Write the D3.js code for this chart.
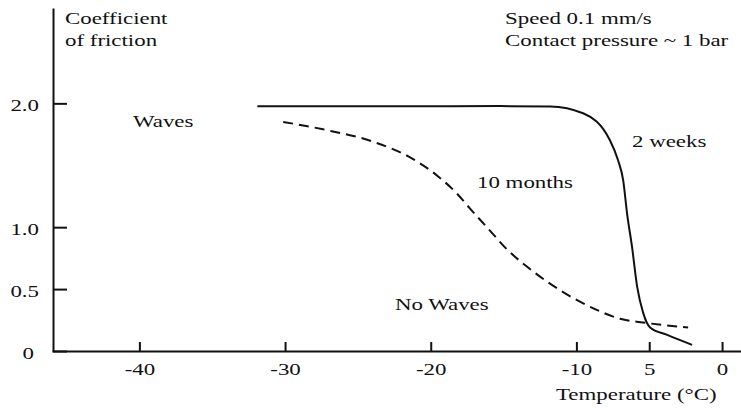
<!DOCTYPE html>
<html>
<head>
<meta charset="utf-8">
<script src="https://cdn.jsdelivr.net/npm/d3@7"></script>
<style>
  body { margin: 0; background: #fff; }
  svg text { font-family: "Liberation Serif", "Times New Roman", Times, "DejaVu Serif", serif; fill: #111; }
</style>
</head>
<body>
<div id="chart"></div>
<script>
// temperature (°C) vs coefficient of friction
var weeks2_temp = [-31.9, -22.1, -15.2, -11.8, -9.54, -7.69, -7.14, -6.79, -6.52, -6.18, -5.83, -5.42, -4.94, -3.77, -2.06];
var weeks2_mu   = [1.976, 1.976, 1.978, 1.975, 1.92, 1.70, 1.54, 1.38, 1.11, 0.84, 0.52, 0.31, 0.19, 0.13, 0.05];

var months10_temp = [-30.13, -27.39, -23.95, -21.21, -19.49, -18.19, -17.30, -15.92, -14.76, -13.38, -12.01, -9.95, -8.37, -7.0, -5.42, -2.33];
var months10_mu   = [1.85, 1.79, 1.69, 1.55, 1.41, 1.27, 1.15, 0.97, 0.82, 0.68, 0.56, 0.41, 0.32, 0.26, 0.23, 0.19];

var x_ticks = [-40, -30, -20, -10, -5, 0];
var x_tick_labels = ["-40", "-30", "-20", "-10", "5", "0"];
var y_ticks = [0, 0.5, 1.0, 2.0];
var y_tick_labels = ["0", "0.5", "1.0", "2.0"];

function build_friction_chart() {
    var width = 741, height = 408;
    var sx = 1.43; // the scan is stretched sideways
    var serif = "'Liberation Serif', 'Times New Roman', Times, 'DejaVu Serif', serif";

    var svg = d3.select("#chart")
        .append("svg")
            .attr("width", width)
            .attr("height", height);

    var xScale = d3.scaleLinear()
        .domain([-46, 1.3])
        .range([52, 741]);

    var yScale = d3.scaleLinear()
        .domain([0, 2.77])
        .range([351, 8]);

    // x axis, ticks pointing up
    var xAxis = svg.append("g")
        .attr("transform", "translate(0," + yScale(0) + ")")
        .call(d3.axisBottom(xScale)
            .tickValues(x_ticks)
            .tickFormat(function(d, i){ return x_tick_labels[i]; })
            .tickSizeInner(-9)
            .tickSizeOuter(0)
            .tickPadding(13));
    xAxis.attr("font-family", serif);
    xAxis.selectAll("text")
        .attr("font-size", 16)
        .attr("fill", "#111")
        .attr("transform", "scale(" + sx + ",1)");

    // y axis, ticks pointing right
    var yAxis = svg.append("g")
        .attr("transform", "translate(53,0)")
        .call(d3.axisLeft(yScale)
            .tickValues(y_ticks)
            .tickFormat(function(d, i){ return y_tick_labels[i]; })
            .tickSizeInner(-14)
            .tickSizeOuter(0)
            .tickPadding(14));
    yAxis.attr("font-family", serif);
    yAxis.selectAll("text")
        .attr("font-size", 16)
        .attr("fill", "#111")
        .attr("x", function(d){ return d === 0 ? -19 / sx : -14 / sx; })
        .attr("dy", "0.45em")
        .attr("transform", "scale(" + sx + ",1)");

    svg.selectAll(".domain, .tick line")
        .attr("stroke", "#111")
        .attr("stroke-width", 2);

    var line = d3.line()
        .x(function(d){ return xScale(d[0]); })
        .y(function(d){ return yScale(d[1]); })
        .curve(d3.curveMonotoneX);

    svg.append("path")
        .datum(d3.zip(weeks2_temp, weeks2_mu))
        .attr("d", line)
        .attr("fill", "none")
        .attr("stroke", "#111")
        .attr("stroke-width", 2);

    svg.append("path")
        .datum(d3.zip(months10_temp, months10_mu))
        .attr("d", line)
        .attr("fill", "none")
        .attr("stroke", "#111")
        .attr("stroke-width", 2)
        .attr("stroke-dasharray", "10,6");

    // labels
    var notes = [
        ["Coefficient", 65, 24],
        ["of friction", 65, 46],
        ["Speed 0.1 mm/s", 505, 24],
        ["Contact pressure ~ 1 bar", 505, 46],
        ["Waves", 133, 127],
        ["10 months", 477, 188],
        ["2 weeks", 632, 147],
        ["No Waves", 395, 310],
        ["Temperature (\u00B0C)", 556, 400]
    ];
    svg.selectAll(".note")
        .data(notes)
        .enter()
        .append("text")
            .attr("class", "note")
            .attr("font-size", 16)
            .attr("font-family", serif)
            .attr("transform", function(d){ return "translate(" + d[1] + "," + d[2] + ") scale(" + sx + ",1)"; })
            .text(function(d){ return d[0]; });
}
build_friction_chart()
</script>
</body>
</html>
